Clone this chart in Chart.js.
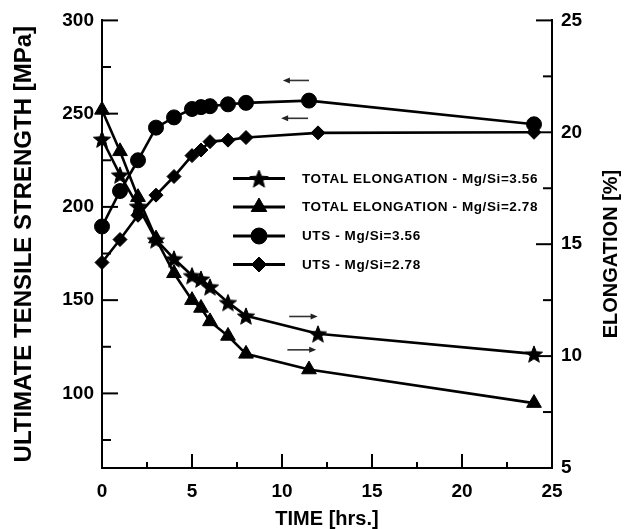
<!DOCTYPE html>
<html><head><meta charset="utf-8">
<script src="https://cdn.jsdelivr.net/npm/chart.js@4.4.1/dist/chart.umd.min.js"></script>
<style>html,body{margin:0;padding:0;background:#fff;}#wrap{width:628px;height:529px;}</style>
</head><body><div id="wrap"><canvas id="c" width="628" height="529"></canvas></div>
<script>
// ---- data ----
const timeUts356 = [0, 1, 2, 3, 4, 5, 5.5, 6, 7, 8, 11.5, 24];
const uts356     = [189.5, 208.5, 225, 242.5, 248, 252.5, 253.5, 254, 255, 255.8, 257, 244.3];
const timeUts278 = [0, 1, 2, 3, 4, 5, 5.5, 6, 7, 8, 12, 24];
const uts278     = [170.2, 182.5, 195.5, 206.3, 216.3, 227.5, 230.5, 235, 235.8, 237.2, 239.7, 240];
const timeEl356  = [0, 1, 2, 3, 4, 5, 5.5, 6, 7, 8, 12, 24];
const el356      = [19.7, 18.1, 16.7, 15.2, 14.35, 13.6, 13.45, 13.1, 12.4, 11.8, 11.0, 10.1];
const timeEl278  = [0, 1, 2, 3, 4, 5, 5.5, 6, 7, 8, 11.5, 24];
const el278      = [21.0, 19.15, 17.1, 15.25, 13.7, 12.5, 12.15, 11.55, 10.9, 10.1, 9.4, 7.9];

const seriesLabels = [
  'TOTAL ELONGATION - Mg/Si=3.56',
  'TOTAL ELONGATION - Mg/Si=2.78',
  'UTS - Mg/Si=3.56',
  'UTS - Mg/Si=2.78'
];
const xTickValues   = [0, 5, 10, 15, 20, 25];
const xMinorTicks   = [2.5, 7.5, 12.5, 17.5, 22.5];
const utsTickValues = [100, 150, 200, 250, 300];
const utsMinorTicks = [75, 125, 175, 225, 275];
const elTickValues  = [5, 10, 15, 20, 25];
const elMinorTicks  = [7.5, 12.5, 17.5, 22.5];
const rightTitle = 'ELONGATION [%]';
// axis-direction arrows: [fromTime, toTime, value, axisId]
const arrowMarks = [
  [11.5, 10.05, 267.8, 'yUts'],
  [11.45, 9.95, 247.5, 'yUts'],
  [10.4, 11.98, 11.77, 'yEl'],
  [10.3, 11.9, 10.28, 'yEl']
];

const FAM = "'Liberation Sans', Arial, Helvetica, sans-serif";

function makeStar(R, r) {
  const s = Math.ceil(R * 2 + 4);
  const c = document.createElement('canvas');
  c.width = s; c.height = s;
  const g = c.getContext('2d');
  g.translate(s / 2, s / 2 + 1);
  g.beginPath();
  for (let i = 0; i < 10; i++) {
    const rad = (i % 2 === 0) ? R : r;
    const a = -Math.PI / 2 + i * Math.PI / 5;
    const px = Math.cos(a) * rad, py = Math.sin(a) * rad;
    if (i === 0) g.moveTo(px, py); else g.lineTo(px, py);
  }
  g.closePath();
  g.fillStyle = '#000'; g.strokeStyle = '#000'; g.lineWidth = 1;
  g.fill(); g.stroke();
  return c;
}
const starImg = makeStar(9, 3.9);
const starLegendImg = makeStar(9.5, 4.1);

const pts = (xs, ys) => xs.map((x, i) => ({x: x, y: ys[i]}));

function mkSet(label, data, axis, style, radius) {
  return {
    label: label, data: data, yAxisID: axis,
    borderColor: '#000', backgroundColor: '#000', borderWidth: 2.6,
    pointStyle: style, pointRadius: radius, pointHoverRadius: radius,
    pointBackgroundColor: '#000', pointBorderColor: '#000', pointBorderWidth: 1,
    tension: 0, fill: false, clip: false
  };
}

const legendItems = [
  {style: starLegendImg, radius: 9},
  {style: 'triangle', radius: 9},
  {style: 'circle', radius: 8},
  {style: 'rectRot', radius: 7.5}
];

const innerTicks = {
  id: 'innerTicks',
  afterDraw(chart) {
    const ctx = chart.ctx, a = chart.chartArea;
    const sx = chart.scales.x, sl = chart.scales.yUts, sr = chart.scales.yEl;
    ctx.save();
    ctx.strokeStyle = '#000'; ctx.lineWidth = 2;
    const seg = (x1, y1, x2, y2) => { ctx.beginPath(); ctx.moveTo(x1, y1); ctx.lineTo(x2, y2); ctx.stroke(); };
    xTickValues.forEach(v => { const p = sx.getPixelForValue(v); seg(p, a.bottom, p, a.bottom - 14); });
    xMinorTicks.forEach(v => { const p = sx.getPixelForValue(v); seg(p, a.bottom, p, a.bottom - 6); });
    utsTickValues.forEach(v => { const p = sl.getPixelForValue(v); seg(a.left, p, a.left + 16, p); });
    utsMinorTicks.forEach(v => { const p = sl.getPixelForValue(v); seg(a.left, p, a.left + 9, p); });
    elTickValues.forEach(v => { const p = sr.getPixelForValue(v); seg(a.right, p, a.right - 16, p); });
    elMinorTicks.forEach(v => { const p = sr.getPixelForValue(v); seg(a.right, p, a.right - 9, p); });
    // right axis title, reading bottom-to-top
    ctx.fillStyle = '#000';
    ctx.font = 'bold 20px ' + FAM;
    ctx.textAlign = 'center'; ctx.textBaseline = 'middle';
    ctx.translate(611, 254);
    ctx.rotate(-Math.PI / 2);
    ctx.fillText(rightTitle, 0, 0);
    ctx.restore();
  }
};

const arrowsPlugin = {
  id: 'arrows',
  afterDatasetsDraw(chart) {
    const ctx = chart.ctx, sx = chart.scales.x;
    ctx.save();
    ctx.strokeStyle = '#333'; ctx.fillStyle = '#222'; ctx.lineWidth = 1.6;
    arrowMarks.forEach(m => {
      const sy = chart.scales[m[3]];
      const x0 = sx.getPixelForValue(m[0]), x1 = sx.getPixelForValue(m[1]);
      const y = sy.getPixelForValue(m[2]);
      const dir = Math.sign(x1 - x0);
      ctx.beginPath(); ctx.moveTo(x0, y); ctx.lineTo(x1 - dir * 5, y); ctx.stroke();
      ctx.beginPath();
      ctx.moveTo(x1, y); ctx.lineTo(x1 - dir * 7, y - 3); ctx.lineTo(x1 - dir * 7, y + 3);
      ctx.closePath(); ctx.fill();
    });
    ctx.restore();
  }
};

const legendPlugin = {
  id: 'customLegend',
  afterDatasetsDraw(chart) {
    const ctx = chart.ctx;
    const rowsY = [178.5, 207, 236, 264.5];
    ctx.save();
    ctx.fillStyle = '#000'; ctx.strokeStyle = '#000';
    ctx.font = 'bold 13.5px ' + FAM;
    ctx.textBaseline = 'middle'; ctx.textAlign = 'left';
    try { ctx.letterSpacing = '0.6px'; } catch (e) {}
    seriesLabels.forEach((t, i) => {
      const y = rowsY[i];
      ctx.lineWidth = 3;
      ctx.beginPath(); ctx.moveTo(233, y); ctx.lineTo(285, y); ctx.stroke();
      ctx.lineWidth = 1;
      Chart.helpers.drawPoint(ctx, {pointStyle: legendItems[i].style, radius: legendItems[i].radius, rotation: 0, borderWidth: 1}, 259, y);
      ctx.fillText(t, 302, y + 0.5);
    });
    ctx.restore();
  }
};

const tickFont = {family: FAM, size: 19, weight: 'bold'};

new Chart(document.getElementById('c'), {
  type: 'line',
  data: {
    datasets: [
      mkSet(seriesLabels[0], pts(timeEl356, el356), 'yEl', starImg, 8),
      mkSet(seriesLabels[1], pts(timeEl278, el278), 'yEl', 'triangle', 8.5),
      mkSet(seriesLabels[2], pts(timeUts356, uts356), 'yUts', 'circle', 7.5),
      mkSet(seriesLabels[3], pts(timeUts278, uts278), 'yUts', 'rectRot', 7)
    ]
  },
  options: {
    responsive: false, animation: false, devicePixelRatio: 1,
    layout: {padding: {top: 20, left: 0, right: 0, bottom: 0}},
    plugins: {legend: {display: false}, tooltip: {enabled: false}},
    scales: {
      x: {
        type: 'linear', position: 'bottom', min: 0, max: 25,
        afterBuildTicks: s => { s.ticks = xTickValues.map(v => ({value: v})); },
        ticks: {font: tickFont, color: '#000', padding: 12, maxRotation: 0, autoSkip: false},
        grid: {display: false, drawTicks: false},
        border: {display: true, color: '#000', width: 2},
        title: {display: true, text: 'TIME [hrs.]', color: '#000', font: {family: FAM, size: 20, weight: 'bold', lineHeight: 1}, padding: {top: 0, bottom: 0}},
        afterFit: s => { s.height = 61; }
      },
      yUts: {
        type: 'linear', position: 'left', min: 60, max: 300,
        afterBuildTicks: s => { s.ticks = utsTickValues.map(v => ({value: v})); },
        ticks: {font: tickFont, color: '#000', padding: 8, autoSkip: false},
        grid: {display: false, drawTicks: false},
        border: {display: true, color: '#000', width: 2},
        title: {display: true, text: 'ULTIMATE TENSILE STRENGTH [MPa]', color: '#000', font: {family: FAM, size: 24, weight: 'bold', lineHeight: 1}, padding: {top: 12, bottom: 0}},
        afterFit: s => { s.width = 102; }
      },
      yEl: {
        type: 'linear', position: 'right', min: 5, max: 25,
        afterBuildTicks: s => { s.ticks = elTickValues.map(v => ({value: v})); },
        ticks: {font: tickFont, color: '#000', padding: 9, autoSkip: false},
        grid: {display: false, drawTicks: false},
        border: {display: true, color: '#000', width: 2},
        title: {display: false},
        afterFit: s => { s.width = 76; }
      }
    }
  },
  plugins: [innerTicks, arrowsPlugin, legendPlugin]
});
</script>
</body></html>
